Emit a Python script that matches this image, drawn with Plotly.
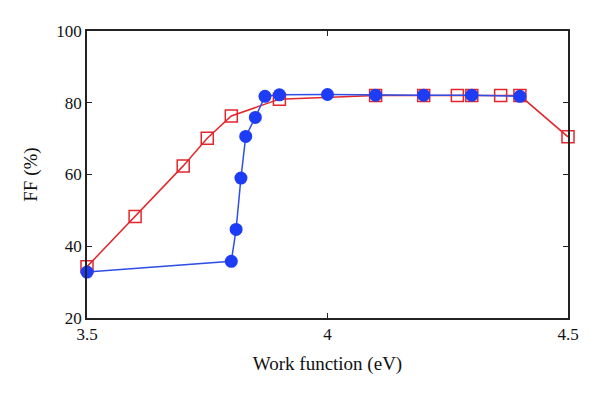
import plotly.graph_objects as go

red_x = [3.5, 3.6, 3.7, 3.75, 3.8, 3.9, 4.1, 4.2, 4.27, 4.3, 4.36, 4.4, 4.5]
red_y = [34.3, 48.3, 62.4, 70.1, 76.3, 81.0, 82.0, 82.0, 82.0, 82.0, 82.0, 82.0, 70.5]

blue_x = [3.5, 3.8, 3.81, 3.82, 3.83, 3.85, 3.87, 3.9, 4.0, 4.1, 4.2, 4.3, 4.4]
blue_y = [32.8, 35.8, 44.7, 59.0, 70.6, 75.9, 81.8, 82.2, 82.3, 82.1, 82.1, 82.1, 81.8]

x_ticks = [3.5, 4, 4.5]
x_tick_labels = ["3.5", "4", "4.5"]
y_ticks = [20, 40, 60, 80, 100]

fig = go.Figure()
fig.add_trace(go.Scatter(
    x=red_x, y=red_y, mode="lines+markers",
    line=dict(color="#e3262b", width=1.5),
    marker=dict(symbol="square-open", size=12, color="#e3262b", line=dict(width=1.5)),
    showlegend=False, cliponaxis=False))
fig.add_trace(go.Scatter(
    x=blue_x, y=blue_y, mode="lines+markers",
    line=dict(color="#2e4ee6", width=1.5),
    marker=dict(symbol="circle", size=13, color="#1c3cf5"),
    showlegend=False, cliponaxis=False))

axis_common = dict(showline=True, linecolor="#222", linewidth=1.5, mirror="ticks",
                   ticks="inside", ticklen=5, tickcolor="#222", showgrid=False,
                   zeroline=False, automargin=False,
                   tickfont=dict(family="Liberation Serif", size=17, color="#111"))

fig.update_layout(
    width=592, height=391,
    margin=dict(l=79, r=32, t=23, b=81),
    plot_bgcolor="white", paper_bgcolor="white",
    xaxis=dict(range=[3.5, 4.5], tickvals=x_ticks, ticktext=x_tick_labels,
               title=dict(text="Work function (eV)", font=dict(family="Liberation Serif", size=19, color="#111"), standoff=14),
               **axis_common),
    yaxis=dict(range=[20, 100], tickvals=y_ticks,
               title=dict(text="FF (%)", font=dict(family="Liberation Serif", size=19, color="#111"), standoff=14),
               **axis_common),
)
fig.write_html("out.html")
